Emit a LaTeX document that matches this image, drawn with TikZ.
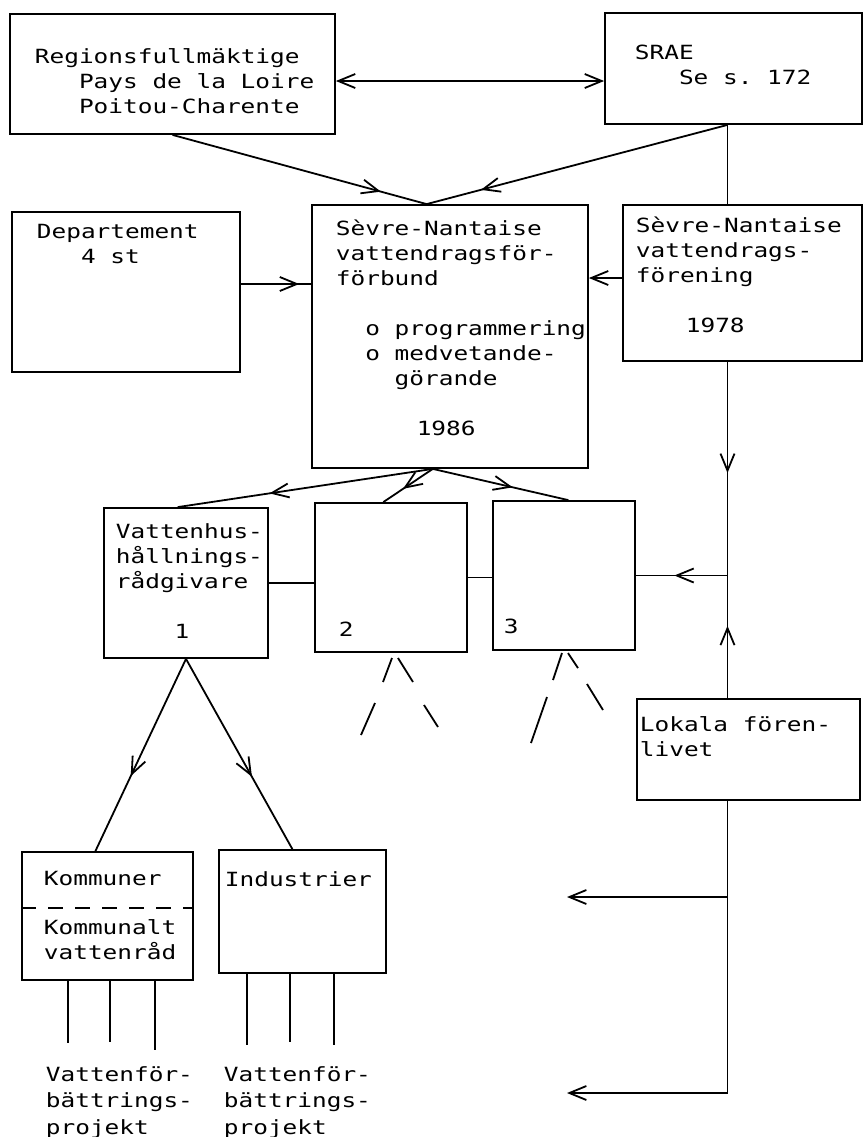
\documentclass[tikz,border=0pt]{standalone}
\usepackage{fontspec}
\setmonofont[FakeStretch=1.25]{DejaVu Sans Mono}
\usetikzlibrary{arrows.meta, decorations.markings, fit, calc}
\newlength\chw
\setlength\chw{7.35pt}
\newcommand\ind[1]{\hspace*{#1\chw}}

\begin{document}
\begin{tikzpicture}[x=0.5pt, y=-0.5pt, line width=0.9pt, >={Straight Barb[length=8.5pt,width=7pt]},
  box/.style={draw, inner sep=0pt},
  % base of a text node = baseline of its last line
  txt/.style={anchor=base west, align=left, inner sep=0pt, font=\ttfamily\fontsize{9.77pt}{12.5pt}\selectfont},
  marr/.style={postaction={decorate}, decoration={markings, mark=at position #1 with {\arrow{>}}}}]

\useasboundingbox (0,0) rectangle (864,1137);

% boxes
\node[box, fit={(10,14) (335,134)}] (reg) {};
\node[box, fit={(605,13) (862,124)}] (srae) {};
\node[box, fit={(12,212) (240,372)}] (dep) {};
\node[box, fit={(312,205) (588,468)}] (cen) {};
\node[box, fit={(623,205) (862,361)}] (sfor) {};
\node[box, fit={(104,508) (268,658)}] (b1) {};
\node[box, fit={(315,503) (467,652)}] (b2) {};
\node[box, fit={(493,501) (635,650)}] (b3) {};
\node[box, fit={(637,699) (860,800)}] (lok) {};
\node[box, fit={(22,852) (193,980)}] (kom) {};
\node[box, fit={(219,850) (386,973)}] (ind) {};

% texts
\node[txt] (treg) at (34,113) {Regionsfullmäktige\\\ind2 Pays de la Loire\\\ind2 Poitou-Charente};
\node[txt] (tsrae) at (634,84) {SRAE\\\ind2 Se s. 172};
\node[txt] (tdep) at (36,263) {Departement\\\ind2 4 st};
\node[txt] (tcen) at (335,435) {Sèvre-Nantaise\\vattendragsför-\\förbund\\\mbox{}\\
  \ind1 o programmering\\\ind1 o medvetande-\\\ind3 görande\\\mbox{}\\\ind{5.5}1986};
\node[txt] (tsfor) at (635,332) {Sèvre-Nantaise\\vattendrags-\\förening\\\mbox{}\\\ind{3.4}1978};
\node[txt] (tb1) at (115,638) {Vattenhus-\\hållnings-\\rådgivare\\\mbox{}\\\ind3 1};
\node[txt] (tb2) at (338,636) {2};
\node[txt] (tb3) at (503,633) {3};
\node[txt] (tlok) at (639,756) {Lokala fören-\\livet};
\node[txt] (tkom) at (43,885) {Kommuner};
\node[txt] (tkva) at (43,959) {Kommunalt\\vattenråd};
\node[txt] (tind) at (224,886) {Industrier};
\node[txt, font=\ttfamily\fontsize{9.77pt}{13.2pt}\selectfont] (tpr1) at (45,1134) {Vattenför-\\bättrings-\\projekt};
\node[txt, font=\ttfamily\fontsize{9.77pt}{13.2pt}\selectfont] (tpr2) at (223,1134) {Vattenför-\\bättrings-\\projekt};

% attachment points
\coordinate (ctop) at ($(cen.north west)!0.416!(cen.north east)$);
\coordinate (cbot) at ($(cen.south west)!0.438!(cen.south east)$);
\coordinate (sbot) at ([xshift=-3pt]srae.south);
\coordinate (j1) at (b3.east -| sbot);
\coordinate (j2) at (j1 |- 0,897);
\coordinate (j3) at (j1 |- 0,1093);
\coordinate (e2) at (567,897);
\coordinate (e3) at (567,1093);

% connectors
\draw[<->] ([yshift=-3.5pt]reg.east) coordinate (r1) -- (r1 -| srae.west);
\draw[marr=0.82] (reg.south) -- (ctop);
\draw[marr=0.82] (sbot) -- (ctop);
\draw (sbot) -- (sbot |- sfor.north);
\draw[marr=0.83] ([yshift=4pt]dep.east) coordinate (d1) -- (d1 -| cen.west);
\draw[->] ([yshift=2.5pt]sfor.west) coordinate (f1) -- (f1 -| cen.east);

\draw[marr=0.64] (cbot) -- ($(b1.north west)!0.45!(b1.north east)$);
\draw[marr=0.6] (cbot) -- ($(b2.north west)!0.45!(b2.north east)$);
\draw[marr=0.59] (cbot) -- ($(b3.north west)!0.53!(b3.north east)$);
\draw (b1.east) -- (b1.east -| b2.west);
\draw (b2.east) -- (b2.east -| b3.west);

\draw[marr=0.52] (sfor.south -| j1) -- (j1);
\draw[marr=0.58] (j1) -- (b3.east);
\draw[marr=0.59] (lok.north -| j1) -- (j1);
\draw (lok.south -| j1) -- (j3);
\draw[->] (j2) -- (e2);
\draw[->] (j3) -- (e3);

% broken lines below 2 and 3
\draw (392,658) -- (383,682) (375,703) -- (361,735) (398,658) -- (413,682) (424,705) -- (438,727);
\draw (562,653) -- (553,680) (547,697) -- (531,743) (568,653) -- (578,668) (587,684) -- (603,710);

\draw[marr=0.61] (b1.south) -- ($(kom.north west)!0.43!(kom.north east)$);
\draw[marr=0.62] (b1.south) -- ($(ind.north west)!0.44!(ind.north east)$);
\draw[dash pattern=on 7.5pt off 6pt] ([yshift=4pt]kom.west) -- ([yshift=4pt]kom.east);

\foreach \x/\y in {68/1043, 110/1042, 155/1050}
  \draw (kom.south -| \x,0) -- (\x,\y);
\foreach \x/\y in {247/1045, 290/1042, 334/1045}
  \draw (ind.south -| \x,0) -- (\x,\y);

\end{tikzpicture}
\end{document}
